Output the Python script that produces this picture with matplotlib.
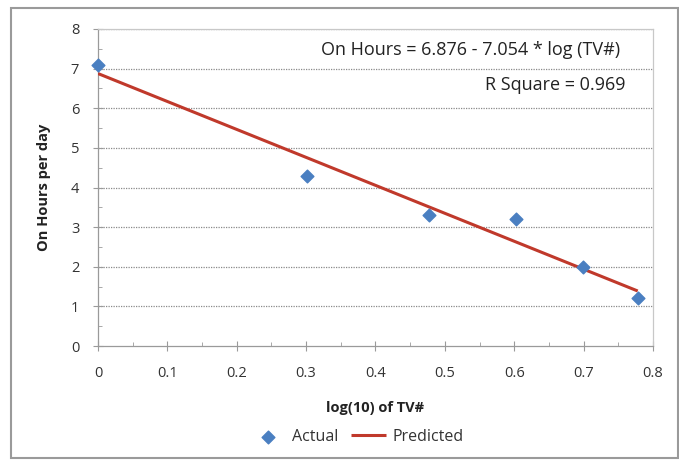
import matplotlib
matplotlib.use("Agg")
import matplotlib.pyplot as plt
from matplotlib.ticker import MultipleLocator
from matplotlib.patches import Rectangle

plt.rcParams['font.family'] = ['Open Sans', 'DejaVu Sans']

log_tv = [0.0, 0.301, 0.477, 0.602, 0.699, 0.778]
actual = [7.1, 4.3, 3.3, 3.2, 2.0, 1.2]
predicted = [6.876, 4.753, 3.511, 2.629, 1.945, 1.388]
xticks = [0, 0.1, 0.2, 0.3, 0.4, 0.5, 0.6, 0.7, 0.8]
xticklabels = ['0', '0.1', '0.2', '0.3', '0.4', '0.5', '0.6', '0.7', '0.8']
yticks = [0, 1, 2, 3, 4, 5, 6, 7, 8]

fig = plt.figure(figsize=(6.79, 4.62), dpi=100)
fig.patches.append(Rectangle((11/679, 4/462), 1 - 11/679 - 0.001, 1 - 12/462,
                             transform=fig.transFigure, fill=False,
                             edgecolor='#9a9a9a', linewidth=1.5))

ax = fig.add_axes([98/679, 1 - 346/462, (653-98)/679, (346-29)/462])
ax.set_xlim(0, 0.8)
ax.set_ylim(0, 8)

for y in yticks[1:]:
    ax.axhline(y, color='#8a8a8a', linestyle=(0, (1, 1)), linewidth=0.9, zorder=1)

line, = ax.plot(log_tv, predicted, color='#c0392b', linewidth=2.2, label='Predicted', zorder=3,
                solid_capstyle='butt')
sc = ax.scatter(log_tv, actual, marker='D', s=42, color='#4a7fc1', label='Actual', zorder=4,
                clip_on=False)

for side in ['top', 'right']:
    ax.spines[side].set_color('#c8c8c8')
    ax.spines[side].set_linewidth(0.9)
for side in ['left', 'bottom']:
    ax.spines[side].set_color('#9a9a9a')
    ax.spines[side].set_linewidth(0.9)

ax.set_xticks(xticks)
ax.set_xticklabels(xticklabels)
ax.set_yticks(yticks)
ax.xaxis.set_minor_locator(MultipleLocator(0.05))
ax.yaxis.set_minor_locator(MultipleLocator(0.5))
ax.tick_params(axis='both', which='major', direction='inout', length=7, color='#9a9a9a',
               labelsize=10.5, labelcolor='#333333')
ax.tick_params(axis='x', which='major', pad=11)
ax.tick_params(axis='y', which='major', pad=10)
ax.tick_params(axis='both', which='minor', direction='in', length=3, color='#9a9a9a')

ax.set_xlabel('log(10) of TV#', fontsize=10.5, fontweight='bold', color='#222222', labelpad=14)
ax.set_ylabel('On Hours per day', fontsize=10.5, fontweight='bold', color='#222222', labelpad=14)

ax.text(0.94, 0.934, 'On Hours = 6.876 - 7.054 * log (TV#)', transform=ax.transAxes,
        ha='right', va='center', fontsize=13, color='#222222')
ax.text(0.951, 0.823, 'R Square = 0.969', transform=ax.transAxes,
        ha='right', va='center', fontsize=13, color='#222222')

leg = fig.legend(handles=[sc, line], labels=['Actual', 'Predicted'],
                 loc='center', bbox_to_anchor=(357/679, 1 - 437/462), ncol=2,
                 frameon=False, fontsize=11.5, handlelength=2.2, columnspacing=0.8,
                 handletextpad=0.4)
for t in leg.get_texts():
    t.set_color('#333333')

fig.savefig('out.png', dpi=100)
